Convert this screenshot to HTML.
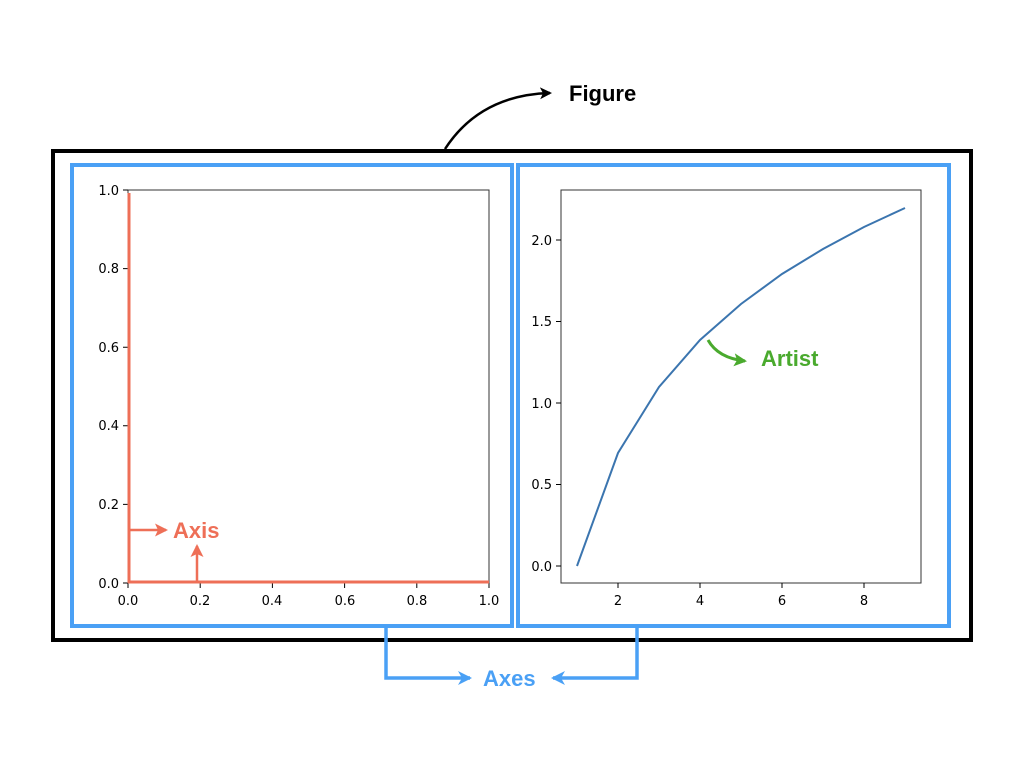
<!DOCTYPE html>
<html><head><meta charset="utf-8"><style>body{margin:0;background:#fff}svg{display:block}</style></head>
<body>
<svg width="1024" height="768" viewBox="0 0 1024 768" xmlns="http://www.w3.org/2000/svg" font-family="Liberation Sans, DejaVu Sans, sans-serif">
<defs>
<marker id="ab" markerWidth="12" markerHeight="12" refX="10" refY="6" orient="auto" markerUnits="userSpaceOnUse"><path d="M0,0 L12,6 L0,12 L3,6z" fill="#000"/></marker>
<marker id="ar" markerWidth="13" markerHeight="13" refX="11" refY="6.5" orient="auto" markerUnits="userSpaceOnUse"><path d="M0,0 L13,6.5 L0,13 L3,6.5z" fill="#ee6f57"/></marker>
<marker id="ag" markerWidth="13" markerHeight="13" refX="11" refY="6.5" orient="auto" markerUnits="userSpaceOnUse"><path d="M0,0 L13,6.5 L0,13 L3,6.5z" fill="#4aaa2e"/></marker>
<marker id="abl" markerWidth="14" markerHeight="14" refX="12" refY="7" orient="auto" markerUnits="userSpaceOnUse"><path d="M0,0 L14,7 L0,14 L4,7z" fill="#4aa0f5"/></marker>
</defs>
<rect x="53" y="151" width="918" height="489" fill="none" stroke="#000" stroke-width="4"/>
<path d="M445,149 Q480,95 550,93" fill="none" stroke="#000" stroke-width="2.5" marker-end="url(#ab)"/>
<text x="569" y="101" font-size="22" font-weight="bold">Figure</text>
<rect x="72" y="165" width="440" height="461" fill="none" stroke="#4aa0f5" stroke-width="4"/>
<rect x="518" y="165" width="431" height="461" fill="none" stroke="#4aa0f5" stroke-width="4"/>
<polyline points="386,626 386,678 470,678" fill="none" stroke="#4aa0f5" stroke-width="3.5" marker-end="url(#abl)"/>
<polyline points="637,626 637,678 553,678" fill="none" stroke="#4aa0f5" stroke-width="3.5" marker-end="url(#abl)"/>
<text x="483" y="686" font-size="22" font-weight="bold" fill="#4aa0f5">Axes</text>
<rect x="128" y="190" width="361" height="393" fill="none" stroke="#333" stroke-width="1"/>
<g font-size="13" fill="#000" stroke="#000" font-family="DejaVu Sans, sans-serif">
<g text-anchor="end" stroke="none">
<text x="119" y="588">0.0</text><text x="119" y="509">0.2</text><text x="119" y="430">0.4</text><text x="119" y="352">0.6</text><text x="119" y="273">0.8</text><text x="119" y="195">1.0</text>
</g>
<path d="M123,583h5M123,504.4h5M123,425.8h5M123,347.2h5M123,268.6h5M123,190h5 M128,583v5M200.2,583v5M272.4,583v5M344.6,583v5M416.8,583v5M489,583v5" stroke-width="1"/>
<g text-anchor="middle" stroke="none">
<text x="128" y="605">0.0</text><text x="200" y="605">0.2</text><text x="272" y="605">0.4</text><text x="345" y="605">0.6</text><text x="417" y="605">0.8</text><text x="489" y="605">1.0</text>
</g>
</g>
<line x1="129" y1="193" x2="129" y2="583" stroke="#ee6f57" stroke-width="3"/>
<line x1="128" y1="582" x2="489" y2="582" stroke="#ee6f57" stroke-width="3"/>
<line x1="129" y1="530" x2="166" y2="530" stroke="#ee6f57" stroke-width="2.5" marker-end="url(#ar)"/>
<line x1="197" y1="582" x2="197" y2="546" stroke="#ee6f57" stroke-width="2.5" marker-end="url(#ar)"/>
<text x="173" y="538" font-size="22" font-weight="bold" fill="#ee6f57">Axis</text>
<rect x="561" y="190" width="360" height="393" fill="none" stroke="#333" stroke-width="1"/>
<g font-size="13" fill="#000" stroke="#000" font-family="DejaVu Sans, sans-serif">
<g text-anchor="end" stroke="none">
<text x="552" y="571">0.0</text><text x="552" y="489">0.5</text><text x="552" y="408">1.0</text><text x="552" y="326">1.5</text><text x="552" y="245">2.0</text>
</g>
<path d="M556,566h5M556,484.5h5M556,403h5M556,321.5h5M556,240h5 M618,583v5M700,583v5M782,583v5M864,583v5" stroke-width="1"/>
<g text-anchor="middle" stroke="none">
<text x="618" y="605">2</text><text x="700" y="605">4</text><text x="782" y="605">6</text><text x="864" y="605">8</text>
</g>
</g>
<polyline points="577,566 618,453 659,387 700,340 741,304 782,274 823,249 864,227 905,208" fill="none" stroke="#3b75af" stroke-width="2"/>
<path d="M708,340 Q718,358 745,361" fill="none" stroke="#4aaa2e" stroke-width="3" marker-end="url(#ag)"/>
<text x="761" y="366" font-size="22" font-weight="bold" fill="#4aaa2e">Artist</text>
</svg>
</body></html>
